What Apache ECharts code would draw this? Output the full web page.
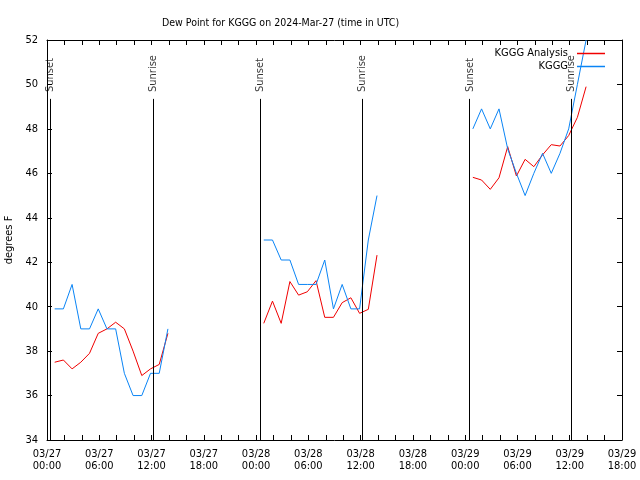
<!DOCTYPE html>
<html>
<head>
<meta charset="utf-8">
<script src="https://cdn.jsdelivr.net/npm/echarts@6/dist/echarts.min.js"></script>
<style>html,body{margin:0;padding:0;background:#fff;}#c{width:640px;height:480px;}</style>
</head>
<body>
<div id="c"></div>
<script>
// hours since 2024-03-27 00:00 UTC (null rows mark data gaps)
const obsHours = [0.88,1.88,2.88,3.88,4.88,5.88,6.88,7.88,8.88,9.88,10.88,11.88,12.88,13.88, 14.88,
  24.88,25.88,26.88,27.88,28.88,29.88,30.88,31.88,32.88,33.88,34.88,35.88,36.88,37.88, 38.88,
  48.88,49.88,50.88,51.88,52.88,53.88,54.88,55.88,56.88,57.88,58.88,59.88,60.88,61.88];
const kgggValues = [39.9,39.9,41.0,39.0,39.0,39.9,39.0,39.0,37.0,36.0,36.0,37.0,37.0,39.0, null,
  43.0,43.0,42.1,42.1,41.0,41.0,41.0,42.1,39.9,41.0,39.9,39.9,43.0,45.0, null,
  48.0,48.9,48.0,48.9,47.1,46.0,45.0,46.0,46.9,46.0,46.9,48.0,50.0,52.0];
const analysisValues = [37.5,37.6,37.2,37.5,37.9,38.8,39.0,39.3,39.0,38.0,36.9,37.2,37.4,38.8, null,
  39.25,40.25,39.25,41.13,40.52,40.67,41.17,39.52,39.52,40.18,40.4,39.7,39.88,42.32, null,
  45.82,45.7,45.28,45.8,47.2,45.88,46.63,46.3,46.83,47.29,47.23,47.7,48.52,49.9];
const sunNames = ['Sunset','Sunrise','Sunset','Sunrise','Sunset','Sunrise'];
const sunHours = [0.38,12.24,24.49,36.23,48.52,60.2];
const xTickLabels = ['03/27\n00:00','03/27\n06:00','03/27\n12:00','03/27\n18:00',
  '03/28\n00:00','03/28\n06:00','03/28\n12:00','03/28\n18:00',
  '03/29\n00:00','03/29\n06:00','03/29\n12:00','03/29\n18:00'];
const yMin = 34, yMax = 52, yStep = 2;
const sunLineTop = 49.35, sunLabelBase = 49.66;

const FONT = "'DejaVu Sans Condensed','Liberation Sans Narrow',sans-serif";
const chart = echarts.init(document.getElementById('c'), null, {renderer:'canvas'});

const pairs = (vals) => obsHours.map((h,i) => [h, vals[i]]);
const axisCommon = {
  type:'value', min:0, max:66, interval:6,
  axisLine:{show:true, onZero:false, lineStyle:{color:'#000', width:1}},
  axisTick:{show:true, inside:true, length:5, lineStyle:{color:'#000'}},
  minorTick:{show:true, splitNumber:3, length:5, lineStyle:{color:'#000'}},
  splitLine:{show:false}
};
const yCommon = {
  type:'value', min:yMin, max:yMax, interval:yStep,
  axisLine:{show:true, onZero:false, lineStyle:{color:'#000', width:1}},
  axisTick:{show:true, inside:true, length:5, lineStyle:{color:'#000'}},
  splitLine:{show:false}
};

chart.setOption({
  animation:false,
  backgroundColor:'#fff',
  title:{text:'Dew Point for KGGG on 2024-Mar-27 (time in UTC)', left:157, top:13,
    textStyle:{fontFamily:FONT, fontSize:10.5, fontWeight:'normal', color:'#000'}},
  grid:{left:47, right:18, top:40, bottom:40, containLabel:false, outerBoundsMode:'none'},
  legend:[
    {data:['KGGG Analysis'], right:30, top:43, align:'right', orient:'vertical', icon:'rect',
     itemWidth:28, itemHeight:1.5, itemGap:0, selectedMode:false,
     textStyle:{fontFamily:FONT, fontSize:11, color:'#000', padding:[0,4,0,0]}},
    {data:['KGGG'], right:30, top:56, align:'right', orient:'vertical', icon:'rect',
     itemWidth:28, itemHeight:1.5, itemGap:0, selectedMode:false,
     textStyle:{fontFamily:FONT, fontSize:11, color:'#000', padding:[0,4,0,0]}}
  ],
  xAxis:[
    Object.assign({}, axisCommon, {position:'bottom',
      axisLabel:{show:true, margin:8, color:'#000', fontFamily:FONT, fontSize:11, lineHeight:12,
        formatter:(v)=>xTickLabels[Math.round(v/6)]}}),
    Object.assign({}, axisCommon, {position:'top', axisLabel:{show:false}})
  ],
  yAxis:[
    Object.assign({}, yCommon, {position:'left', name:'degrees F', nameLocation:'middle', nameGap:31,
      nameTextStyle:{fontFamily:FONT, fontSize:11, color:'#000'},
      axisLabel:{show:true, margin:9, color:'#000', fontFamily:FONT, fontSize:11}}),
    Object.assign({}, yCommon, {position:'right', axisLabel:{show:false}})
  ],
  series:[
    {name:'KGGG Analysis', type:'line', data:pairs(analysisValues), showSymbol:false, symbol:'none',
     connectNulls:false, color:'#f00000', lineStyle:{width:1, color:'#f00000'}, silent:true},
    {name:'KGGG', type:'line', data:pairs(kgggValues), showSymbol:false, symbol:'none',
     connectNulls:false, color:'#0a84f5', lineStyle:{width:1, color:'#0a84f5'}, silent:true},
    {name:'sun', type:'scatter', symbolSize:0, silent:true,
     data: sunHours.map((h,i)=>({value:[h, sunLabelBase], name:sunNames[i]})),
     label:{show:true, position:'inside', formatter:'{b}', rotate:90, align:'left', verticalAlign:'middle',
       fontFamily:FONT, fontSize:11, color:'#000'},
     markLine:{silent:true, symbol:['none','none'], label:{show:false},
       lineStyle:{color:'#000', width:1, type:'solid'},
       data: sunHours.map(h=>[{coord:[h, yMin]},{coord:[h, sunLineTop]}])}
    }
  ]
});
</script>
</body>
</html>
